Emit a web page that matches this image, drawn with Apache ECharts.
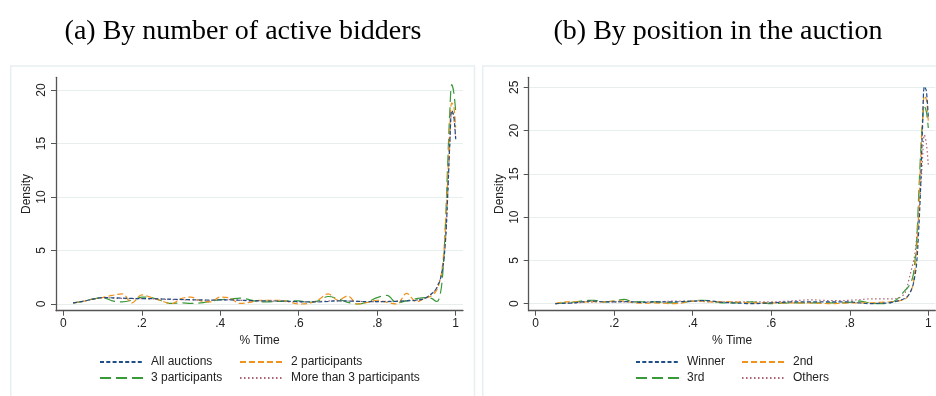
<!DOCTYPE html>
<html>
<head>
<meta charset="utf-8">
<script src="https://cdn.jsdelivr.net/npm/echarts@6/dist/echarts.min.js"></script>
<style>
html,body{margin:0;padding:0;background:#fff;}
#main{width:936px;height:396px;}
</style>
</head>
<body>
<div id="main"></div>
<script>
// ---------- data: panel (a) ----------
const xA = [0.025,0.05,0.075,0.1,0.125,0.15,0.175,0.2,0.225,0.25,0.275,0.3,0.325,0.35,0.375,0.4,0.425,0.45,0.475,0.5,0.525,0.55,0.575,0.6,0.625,0.65,0.675,0.7,0.725,0.75,0.775,0.8,0.825,0.85,0.875,0.9,
  0.92,0.94,0.95,0.955,0.96,0.965,0.97,0.975,0.98,0.985,0.99,0.995,1.0];
const allAuctions = [0.1,0.25,0.45,0.6,0.58,0.55,0.52,0.5,0.5,0.47,0.45,0.42,0.4,0.38,0.37,0.38,0.38,0.35,0.32,0.3,0.28,0.28,0.25,0.22,0.2,0.2,0.25,0.3,0.28,0.25,0.22,0.22,0.23,0.25,0.3,0.35,
  0.5,1.0,1.4,1.8,2.2,3.0,4.2,6.5,10.5,15,18.1,17.6,15.4];
const twoParticipants = [0.1,0.25,0.45,0.6,0.8,0.95,0.1,0.85,0.6,0.3,0.02,0.5,0.65,0.3,0.2,0.65,0.55,0.05,0.15,0.35,0.35,0.35,0.2,0.0,0.05,0.4,0.95,0.35,0.75,0.0,0.15,0.35,0.15,0.0,1.0,0.2,
  0.5,0.8,1.2,1.6,2.2,3.2,5.0,8.0,12.0,16.5,18.8,18.5,16.5];
const threeParticipants = [0.1,0.25,0.45,0.6,0.3,0.2,0.35,0.65,0.6,0.3,0.05,0.1,0.05,0.1,0.25,0.4,0.45,0.55,0.4,0.2,0.2,0.25,0.3,0.3,0.15,0.3,0.7,0.5,0.15,0.0,0.2,0.6,0.8,0.1,0.3,0.5,
  0.6,0.5,0.25,0.3,0.8,2.0,4.5,8.5,13.5,18,20.5,19.8,18];
const moreThanThree = [0.1,0.25,0.45,0.6,0.55,0.52,0.5,0.5,0.48,0.45,0.42,0.4,0.38,0.35,0.35,0.38,0.4,0.35,0.3,0.3,0.28,0.25,0.22,0.2,0.2,0.22,0.28,0.3,0.28,0.25,0.22,0.22,0.25,0.28,0.32,0.38,
  0.5,1.0,1.4,1.8,2.3,3.1,4.3,6.6,10.5,15,18,17.4,15.3];

// ---------- data: panel (b) ----------
const xB = [0.05,0.075,0.1,0.125,0.15,0.175,0.2,0.225,0.25,0.275,0.3,0.325,0.35,0.375,0.4,0.425,0.45,0.475,0.5,0.525,0.55,0.575,0.6,0.625,0.65,0.675,0.7,0.725,0.75,0.775,0.8,0.825,0.85,0.875,0.9,
  0.92,0.94,0.95,0.96,0.965,0.97,0.975,0.98,0.985,0.99,0.995,1.0];
const winner = [0.0,0.05,0.1,0.25,0.3,0.2,0.2,0.25,0.2,0.15,0.2,0.2,0.2,0.25,0.3,0.35,0.3,0.15,0.1,0.05,0.0,0.05,0.1,0.15,0.2,0.2,0.2,0.2,0.2,0.2,0.2,0.1,0.0,0.05,0.1,
  0.3,0.6,1.0,2.0,3.0,4.5,8.0,13,20,25.1,24.6,21.5];
const second = [0.0,0.2,0.2,0.2,0.25,0.2,0.3,0.3,0.1,0.05,0.1,0.05,0.0,0.1,0.3,0.3,0.2,0.2,0.2,0.15,0.1,0.1,0.1,0.1,0.1,0.1,0.1,0.05,0.0,0.05,0.1,0.1,0.1,0.15,0.2,
  0.3,0.5,1.0,2.0,3.5,6.0,10,16,21,24,23.6,21];
const third = [0.0,0.1,0.2,0.35,0.4,0.2,0.3,0.5,0.2,0.2,0.2,0.15,0.1,0.15,0.3,0.4,0.3,0.1,0.1,0.15,0.2,0.1,0.0,0.05,0.1,0.1,0.1,0.1,0.1,0.1,0.15,0.3,0.1,0.0,0.05,
  0.5,1.5,2.0,3.0,4.5,7,12,17,21,22.8,22.2,20.3];
const others = [0.0,0.05,0.1,0.15,0.2,0.2,0.2,0.2,0.2,0.2,0.2,0.25,0.3,0.3,0.3,0.25,0.2,0.2,0.2,0.2,0.2,0.2,0.2,0.25,0.3,0.4,0.45,0.4,0.35,0.35,0.4,0.45,0.55,0.55,0.55,
  0.6,1.2,2.7,4.5,5.5,7.5,10,13,16.5,19.5,18.5,16];

// ---------- ticks ----------
const xTicks = [0,0.2,0.4,0.6,0.8,1];
const yTicksA = [0,5,10,15,20];
const yTicksB = [0,5,10,15,20,25];

const titles = ['(a) By number of active bidders','(b) By position in the auction'];
const namesA = ['All auctions','2 participants','3 participants','More than 3 participants'];
const namesB = ['Winner','2nd','3rd','Others'];

// ---------- styles ----------
const colors = ['#1f4f86','#f0921c','#3a9a3a','#b06070'];
const dashes = [[4,2.3],[6,3],[11,5],[1.5,2.5]];
const FONT = 'Liberation Sans';
const AX = '#555';

function zip(xs, ys){ return xs.map((x,i)=>[x,ys[i]]); }
function xfmt(v){ if (v===0) return '0'; if (v===1) return '1'; return String(v).replace(/^0\./,'.'); }

function xAxisDef(gridIndex, min, max){
  return {
    type:'value', gridIndex, min, max,
    axisLine:{show:true, onZero:false, lineStyle:{color:AX, width:1.3}},
    axisTick:{show:true, length:5, customValues:xTicks, lineStyle:{color:AX, width:1}},
    axisLabel:{customValues:xTicks, formatter:xfmt, color:'#222', fontFamily:FONT, fontSize:12, margin:7},
    splitLine:{show:false},
    name:'% Time', nameLocation:'middle', nameGap:21,
    nameTextStyle:{color:'#222', fontFamily:FONT, fontSize:12}
  };
}
function yAxisDef(gridIndex, min, max, ticks){
  return {
    type:'value', gridIndex, min, max,
    axisLine:{show:true, onZero:false, lineStyle:{color:AX, width:1.3}},
    axisTick:{show:true, length:5, customValues:ticks, lineStyle:{color:AX, width:1}},
    axisLabel:{customValues:ticks, rotate:90, color:'#222', fontFamily:FONT, fontSize:12, margin:8},
    splitLine:{show:true, lineStyle:{color:'#e6eeee', width:1}},
    name:'Density', nameLocation:'middle', nameGap:23,
    nameTextStyle:{color:'#222', fontFamily:FONT, fontSize:12}
  };
}
function mkSeries(name, xs, ys, i, axisIndex){
  return {
    type:'line', name, data:zip(xs, ys), xAxisIndex:axisIndex, yAxisIndex:axisIndex,
    smooth:0.35, symbol:'none', showSymbol:false, clip:false, silent:true, animation:false,
    lineStyle:{color:colors[i], width:1.2, type:dashes[i]},
    itemStyle:{color:colors[i]}, z:10-i
  };
}
function legendDef(data, left){
  return {
    data, left, top:356, orient:'vertical', itemWidth:44, itemHeight:12, itemGap:4, padding:0,
    itemStyle:{opacity:0},
    textStyle:{color:'#222', fontFamily:FONT, fontSize:12, padding:[0,0,0,2]},
    selectedMode:false
  };
}

const chart = echarts.init(document.getElementById('main'), null, {renderer:'canvas'});
chart.setOption({
  backgroundColor:'#fff',
  animation:false,
  title:[
    {text:titles[0], left:238, top:13, textAlign:'center', textStyle:{fontFamily:'Liberation Serif', fontSize:28, fontWeight:'normal', color:'#000'}},
    {text:titles[1], left:713, top:13, textAlign:'center', textStyle:{fontFamily:'Liberation Serif', fontSize:28, fontWeight:'normal', color:'#000'}}
  ],
  graphic:[
    {type:'rect', shape:{x:10.7, y:66, width:463.8, height:340}, style:{fill:'#fff', stroke:'#e8eff0', lineWidth:1.5}, z:-10},
    {type:'rect', shape:{x:482.7, y:66, width:470, height:340}, style:{fill:'#fff', stroke:'#e8eff0', lineWidth:1.5}, z:-10}
  ],
  grid:[
    {left:56, top:77.3, width:407, height:233.4, outerBoundsMode:'none', containLabel:false},
    {left:528.7, top:77.3, width:406.6, height:233.4, outerBoundsMode:'none', containLabel:false}
  ],
  xAxis:[ xAxisDef(0, -0.0186, 1.0186), xAxisDef(1, -0.0178, 1.0178) ],
  yAxis:[ yAxisDef(0, -0.626, 21.19, yTicksA), yAxisDef(1, -0.81, 26.16, yTicksB) ],
  legend:[
    legendDef([namesA[0], namesA[2]], 99),
    legendDef([namesA[1], namesA[3]], 239),
    legendDef([namesB[0], namesB[2]], 635),
    legendDef([namesB[1], namesB[3]], 741)
  ],
  series:[
    mkSeries(namesA[0], xA, allAuctions, 0, 0),
    mkSeries(namesA[1], xA, twoParticipants, 1, 0),
    mkSeries(namesA[2], xA, threeParticipants, 2, 0),
    mkSeries(namesA[3], xA, moreThanThree, 3, 0),
    mkSeries(namesB[0], xB, winner, 0, 1),
    mkSeries(namesB[1], xB, second, 1, 1),
    mkSeries(namesB[2], xB, third, 2, 1),
    mkSeries(namesB[3], xB, others, 3, 1)
  ]
});
</script>
</body>
</html>
